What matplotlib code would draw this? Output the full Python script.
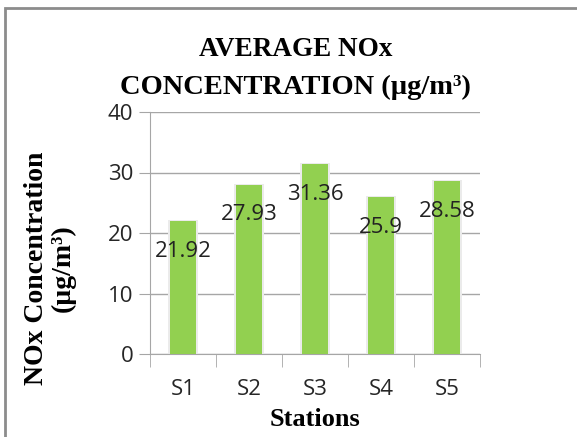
import matplotlib.pyplot as plt
from matplotlib.patches import Rectangle

stations = ['S1', 'S2', 'S3', 'S4', 'S5']
nox = [21.92, 27.93, 31.36, 25.9, 28.58]
y_ticks = [0, 10, 20, 30, 40]

bar_color = '#92D050'
grid_color = '#A6A6A6'

fig = plt.figure(figsize=(5.77, 4.37), dpi=100)
ax = fig.add_axes([150 / 577, 1 - 354 / 437, 330 / 577, 242 / 437])

x = list(range(len(stations)))
# faint glow around each bar
ax.bar(x, [v + 0.25 for v in nox], width=0.44, color='#EBEBEB', zorder=2)
ax.bar(x, nox, width=0.38, color=bar_color, zorder=3)

for i, v in zip(x, nox):
    ax.annotate(f'{v:g}', (i, v), xytext=(0, -14), textcoords='offset points',
                ha='center', va='top', fontsize=16, family='Open Sans',
                color='#222222', zorder=4)

ax.set_xlim(-0.5, len(stations) - 0.5)
ax.set_ylim(0, 40)
ax.set_yticks(y_ticks)
ax.set_xticks(x)
ax.set_xticklabels(stations)
ax.set_xticks([i - 0.5 for i in range(len(stations) + 1)], minor=True)
ax.tick_params(axis='x', which='major', length=0, pad=18)
ax.tick_params(axis='x', which='minor', length=9, color=grid_color, direction='out')
ax.tick_params(axis='y', length=8, color=grid_color, pad=4)
for lab in ax.get_xticklabels() + ax.get_yticklabels():
    lab.set_family('Open Sans')
    lab.set_fontsize(16)
    lab.set_color('#262626')

ax.grid(axis='y', color=grid_color, linewidth=1, zorder=0)
for s in ['top', 'right']:
    ax.spines[s].set_visible(False)
for s in ['left', 'bottom']:
    ax.spines[s].set_color(grid_color)

fig.text(0.512, 1 - 50 / 437, 'AVERAGE NOx', ha='center', va='center',
         fontsize=19.5, fontweight='bold', family='Liberation Serif')
fig.text(0.512, 1 - 87 / 437, 'CONCENTRATION (µg/m³)', ha='center', va='center',
         fontsize=20.5, fontweight='bold', family='Liberation Serif')
fig.text(50 / 577, 1 - 268 / 437, 'NOx Concentration\n(µg/m³)', rotation=90,
         ha='center', va='center', fontsize=20, fontweight='bold',
         family='Liberation Serif', linespacing=1.05)
fig.text(315 / 577, 1 - 420 / 437, 'Stations', ha='center', va='center',
         fontsize=19, fontweight='bold', family='Liberation Serif')

# chart frame
fig.patches.append(Rectangle((5 / 577, -0.1), 1.2, 1 - 8 / 437 + 0.1,
                             transform=fig.transFigure, fill=False,
                             edgecolor='#8C8C8C', linewidth=2))

fig.savefig('out.png', dpi=100)
